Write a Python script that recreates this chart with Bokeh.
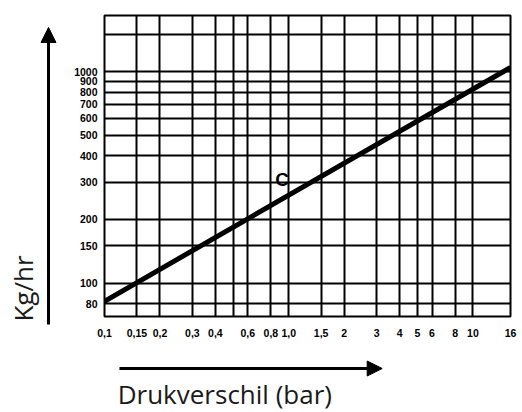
from math import pi
from bokeh.plotting import figure
from bokeh.layouts import row, column
from bokeh.models import FixedTicker, Label, Arrow, NormalHead, Range1d
from bokeh.embed import file_html
from bokeh.resources import INLINE

# ---- data ----
x_ticks = [0.1, 0.15, 0.2, 0.3, 0.4, 0.6, 0.8, 1.0, 1.5, 2, 3, 4, 5, 6, 8, 10, 16]
x_labels = ["0,1", "0,15", "0,2", "0,3", "0,4", "0,6", "0,8", "1,0", "1,5",
            "2", "3", "4", "5", "6", "8", "10", "16"]
x_grid = [0.15, 0.2, 0.3, 0.4, 0.5, 0.6, 0.8, 1.0, 1.5, 2, 3, 4, 5, 6, 8, 10]

y_ticks = [80, 100, 150, 200, 300, 400, 500, 600, 700, 800, 900, 1000]
y_labels = ["80", "100", "150", "200", "300", "400", "500", "600", "700", "800", "900", "1000"]
y_grid = [80, 100, 150, 200, 300, 400, 500, 600, 700, 800, 900, 1000, 1500]

line_x = [0.1, 16]
line_y = [82, 1045]
curve_name = "C"
curve_label_x = 0.92
curve_label_y = 310

x_title = "Drukverschil (bar)"
y_title = "Kg/hr"

TEXT_COLOR = "#1a1a1a"


def blank_figure(w, h, xr, yr):
    f = figure(width=w, height=h, x_range=Range1d(*xr), y_range=Range1d(*yr),
               x_axis_location=None, y_axis_location=None, min_border=0,
               output_backend="svg", toolbar_location=None)
    f.outline_line_color = None
    f.grid.visible = False
    f.background_fill_color = "white"
    f.border_fill_color = "white"
    return f


# ---- main chart ----
p = figure(width=462, height=345, x_axis_type="log", y_axis_type="log",
           x_range=Range1d(0.1, 16), y_range=Range1d(69.5, 1840),
           output_backend="svg", toolbar_location=None,
           min_border_left=44, min_border_right=12, min_border_top=15, min_border_bottom=29)
p.background_fill_color = "white"
p.border_fill_color = "white"
p.outline_line_color = "black"
p.outline_line_width = 2

p.xaxis.ticker = FixedTicker(ticks=x_ticks)
p.yaxis.ticker = FixedTicker(ticks=y_ticks)
p.xaxis.major_label_overrides = dict(zip(x_ticks, x_labels))
p.yaxis.major_label_overrides = dict(zip(y_ticks, y_labels))

for ax in (p.xaxis, p.yaxis):
    ax.axis_line_color = None
    ax.major_tick_line_color = None
    ax.minor_tick_line_color = None
    ax.major_tick_out = 0
    ax.major_tick_in = 0
    ax.major_label_text_font = "Liberation Sans"
    ax.major_label_text_font_style = "bold"
    ax.major_label_text_font_size = "10.5px"
    ax.major_label_text_color = "black"
p.xaxis.major_label_standoff = 12
p.yaxis.major_label_standoff = 7

p.xgrid.ticker = FixedTicker(ticks=x_grid)
p.ygrid.ticker = FixedTicker(ticks=y_grid)
for g in (p.xgrid, p.ygrid):
    g.grid_line_color = "black"
    g.grid_line_width = 2
    g.minor_grid_line_color = None

p.line(line_x, line_y, line_color="black", line_width=5)

p.add_layout(Label(x=curve_label_x, y=curve_label_y, text=curve_name,
                   text_font="Liberation Sans", text_font_style="bold",
                   text_font_size="19px", text_align="center", text_baseline="middle",
                   text_color="black"))

# ---- left strip: y title and upward arrow ----
left = blank_figure(60, 412, (0, 60), (412, 0))
left.add_layout(Arrow(x_start=48, y_start=324, x_end=48, y_end=27,
                      line_color="black", line_width=3,
                      end=NormalHead(size=15, fill_color="black", line_color="black", line_width=1)))
left.add_layout(Label(x=22, y=288, text=y_title, angle=pi / 2,
                      text_font="Open Sans", text_font_size="26px",
                      text_align="center", text_baseline="middle", text_color=TEXT_COLOR))

# ---- bottom strip: x title and rightward arrow ----
bottom = blank_figure(462, 67, (60, 522), (412, 345))
bottom.add_layout(Arrow(x_start=77, y_start=368, x_end=376, y_end=368,
                        line_color="black", line_width=3,
                        end=NormalHead(size=15, fill_color="black", line_color="black", line_width=1)))
bottom.add_layout(Label(x=75, y=393, text=x_title,
                        text_font="Open Sans", text_font_size="26px",
                        text_align="left", text_baseline="middle", text_color=TEXT_COLOR))

layout = row(left, column(p, bottom))

open("out.html", "w").write(file_html(layout, INLINE))
